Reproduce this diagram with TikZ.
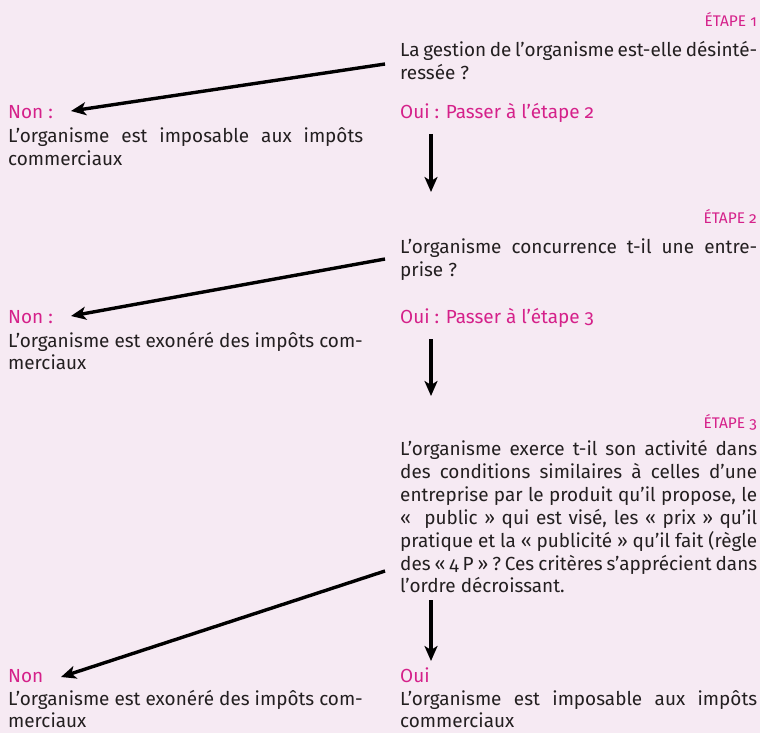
\documentclass[tikz,border=0pt]{standalone}
\usepackage{fontspec}
\setmainfont{Fira Sans}[Numbers=OldStyle]
\usetikzlibrary{arrows.meta}
\definecolor{bgc}{HTML}{F6EAF3}
\definecolor{magc}{HTML}{D5218A}
\definecolor{txtc}{HTML}{231F20}
\newcommand{\jl}[1]{\makebox[\linewidth][s]{#1}}
\tikzset{
  blk/.style={inner sep=0pt, anchor=base west, text=txtc},
  etp/.style={inner sep=0pt, anchor=base east, text=magc, font=\fontsize{15.5}{18}\selectfont},
  mag/.style={inner sep=0pt, anchor=base west, text=magc, font=\fontsize{19}{23.2}\selectfont},
  arr/.style={line width=3.4bp, black, -{Stealth[length=15bp,width=13bp,inset=4bp]}},
}
\newcommand{\bx}[2]{\parbox[t]{#1bp}{\fontsize{19}{23}\selectfont\setlength{\parindent}{0pt}#2}}
\begin{document}
\begin{tikzpicture}[x=1bp,y=-1bp]
\fill[bgc] (0,0) rectangle (760,733);
\useasboundingbox (0,0) rectangle (760,733);
% step 1
\node[etp] (e1) at (757,27) {ÉTAPE 1};
\node[blk] (q1) at (400,57) {\bx{357}{\jl{La gestion de l’organisme est-elle désinté-}\\ressée ?}};
\node[mag] (oui1) at (400,119) {Oui : Passer à l’étape 2};
\node[mag] (non1) at (8,119) {Non :};
\node[blk] (nt1) at (8,142.5) {\bx{355}{\jl{L’organisme est imposable aux impôts}\\commerciaux}};
% step 2
\node[etp] (e2) at (757,223) {ÉTAPE 2};
\node[blk] (q2) at (400,253.5) {\bx{357}{\jl{L’organisme concurrence t-il une entre-}\\prise ?}};
\node[mag] (oui2) at (400,323.5) {Oui : Passer à l’étape 3};
\node[mag] (non2) at (8,323.5) {Non :};
\node[blk] (nt2) at (8,347) {\bx{357}{L’organisme est exonéré des impôts com-\\merciaux}};
% step 3
\node[etp] (e3) at (757,428) {ÉTAPE 3};
\node[blk] (q3) at (400,455.5) {\bx{357}{\jl{L’organisme exerce t-il son activité dans}\\
\jl{des conditions similaires à celles d’une}\\
\jl{entreprise par le produit qu’il propose, le}\\
\jl{«\ \ public » qui est visé, les « prix » qu’il}\\
\jl{pratique et la « publicité » qu’il fait (règle}\\
\jl{des « 4 P » ? Ces critères s’apprécient dans}\\
l’ordre décroissant.}};
\node[mag] (oui3) at (400,682.5) {Oui};
\node[mag] (non3) at (8,682.5) {Non};
\node[blk] (nt3) at (8,705) {\bx{357}{L’organisme est exonéré des impôts com-\\merciaux}};
\node[blk] (ot3) at (400,705) {\bx{357}{\jl{L’organisme est imposable aux impôts}\\commerciaux}};
% connector coordinates
\coordinate (s1) at (385,64);  \coordinate (t1) at (71,111);
\coordinate (s2) at (385,259); \coordinate (t2) at (71,316);
\coordinate (s3) at (385,571); \coordinate (t3) at (61,677);
\coordinate (d1a) at (431,134); \coordinate (d1b) at (431,192);
\coordinate (d2a) at (431,339); \coordinate (d2b) at (431,396);
\coordinate (d3a) at (431,600); \coordinate (d3b) at (431,661);
\draw[arr] (s1) -- (t1);
\draw[arr] (s2) -- (t2);
\draw[arr] (s3) -- (t3);
\draw[arr] (d1a) -- (d1b);
\draw[arr] (d2a) -- (d2b);
\draw[arr] (d3a) -- (d3b);
\end{tikzpicture}
\end{document}
